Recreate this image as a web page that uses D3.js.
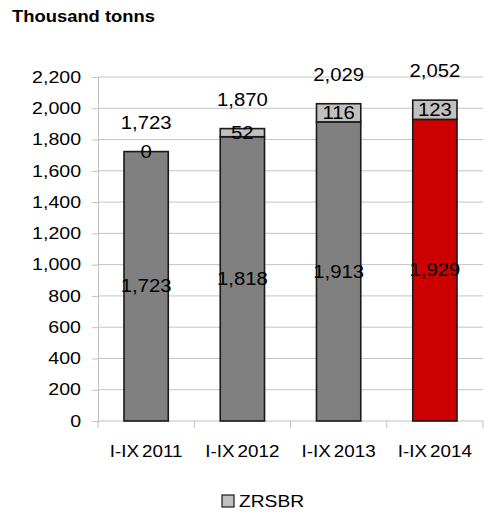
<!DOCTYPE html>
<html>
<head>
<meta charset="utf-8">
<script src="https://cdn.jsdelivr.net/npm/d3@7"></script>
<style>
  html, body { margin: 0; padding: 0; background: #fff; }
  svg text { font-family: "Liberation Sans", Arial, sans-serif; fill: #000; }
</style>
</head>
<body>
<svg id="chart" width="484" height="512"></svg>
<script>
// Production, thousand tonnes, January–September
const categories = ["I-IX 2011", "I-IX 2012", "I-IX 2013", "I-IX 2014"];
const baseValues = [1723, 1818, 1913, 1929];
const zrsbrValues = [0, 52, 116, 123];
const totalValues = [1723, 1870, 2029, 2052];
const yTicks = [0, 200, 400, 600, 800, 1000, 1200, 1400, 1600, 1800, 2000, 2200];
const baseColors = ["#808080", "#808080", "#808080", "#cc0000"];

const svg = d3.select("#chart");
const fmt = d3.format(",");
const plotLeft = 98, plotRight = 483, plotTop = 77, plotBottom = 421;

// widen text horizontally around its own x anchor
function widen(sel, sx) {
  sel.attr("transform", function () {
    const ax = +this.getAttribute("x") || 0;
    return `translate(${ax},0) scale(${sx},1) translate(${-ax},0)`;
  });
}

const x = d3.scaleBand().domain(categories).range([plotLeft, plotRight]).paddingInner(0.54).paddingOuter(0.27);
const xOuter = d3.scaleBand().domain(categories).range([plotLeft, plotRight]);
const y = d3.scaleLinear().domain([0, 2200]).range([plotBottom, plotTop]);

// title
svg.append("text").attr("x", 12).attr("y", 22)
  .attr("font-size", 16).attr("font-weight", "bold")
  .text("Thousand tonns")
  .call(widen, 1.15);

// gridlines
svg.append("g").selectAll("line").data(yTicks.filter(d => d > 0)).join("line")
  .attr("x1", plotLeft).attr("x2", plotRight)
  .attr("y1", d => y(d)).attr("y2", d => y(d))
  .attr("stroke", "#c4c4c4").attr("stroke-width", 1);

// y axis
const yAxis = svg.append("g").attr("transform", `translate(${plotLeft},0)`)
  .call(d3.axisLeft(y).tickValues(yTicks).tickFormat(fmt).tickSize(6).tickPadding(11));
yAxis.select(".domain").attr("stroke", "#c0c0c0");
yAxis.selectAll(".tick line").attr("stroke", "#c0c0c0");
yAxis.selectAll(".tick text").attr("font-size", 16.3).attr("fill", "#000")
  .attr("font-family", "Liberation Sans, Arial, sans-serif")
  .call(widen, 1.2);

// x axis with ticks at category boundaries
const xg = svg.append("g");
xg.append("line").attr("x1", plotLeft).attr("x2", plotRight).attr("y1", plotBottom).attr("y2", plotBottom)
  .attr("stroke", "#c0c0c0");
const bounds = categories.map(c => xOuter(c)).concat([xOuter(categories[categories.length - 1]) + xOuter.bandwidth()]);
xg.selectAll("line.b").data(bounds).join("line").attr("class", "b")
  .attr("x1", d => d).attr("x2", d => d).attr("y1", plotBottom).attr("y2", plotBottom + 7)
  .attr("stroke", "#c0c0c0");
xg.selectAll("text").data(categories).join("text")
  .attr("x", d => xOuter(d) + xOuter.bandwidth() / 2).attr("y", 457)
  .attr("text-anchor", "middle").attr("font-size", 16.5).attr("word-spacing", -2)
  .text(d => d)
  .call(widen, 1.14);

// bars
const bars = svg.append("g");
categories.forEach((c, i) => {
  const bx = x(c), bw = x.bandwidth();
  bars.append("rect").attr("x", bx).attr("width", bw)
    .attr("y", y(baseValues[i])).attr("height", y(0) - y(baseValues[i]))
    .attr("fill", baseColors[i]).attr("stroke", "#1a1a1a").attr("stroke-width", 1.6);
  bars.append("rect").attr("x", bx).attr("width", bw)
    .attr("y", y(baseValues[i] + zrsbrValues[i]))
    .attr("height", y(baseValues[i]) - y(baseValues[i] + zrsbrValues[i]))
    .attr("fill", "#c0c0c0").attr("stroke", "#1a1a1a").attr("stroke-width", 1.6);
});

// labels
const labels = svg.append("g").attr("font-size", 17.5).attr("text-anchor", "middle");
categories.forEach((c, i) => {
  const cx = x(c) + x.bandwidth() / 2;
  labels.append("text").attr("x", cx).attr("y", y(baseValues[i] / 2)).attr("dy", "0.35em")
    .text(fmt(baseValues[i])).call(widen, 1.16);
  labels.append("text").attr("x", cx).attr("y", y(baseValues[i] + zrsbrValues[i] / 2)).attr("dy", "0.35em")
    .text(fmt(zrsbrValues[i])).call(widen, 1.16);
  labels.append("text").attr("x", cx).attr("y", y(totalValues[i]) - 29).attr("dy", "0.35em")
    .text(fmt(totalValues[i])).call(widen, 1.16);
});

// legend
const lg = svg.append("g");
lg.append("rect").attr("x", 222).attr("y", 495).attr("width", 12).attr("height", 12)
  .attr("fill", "#c0c0c0").attr("stroke", "#1a1a1a").attr("stroke-width", 1.2);
lg.append("text").attr("x", 239).attr("y", 507).attr("font-size", 16.3).text("ZRSBR")
  .call(widen, 1.18);
</script>
</body>
</html>
